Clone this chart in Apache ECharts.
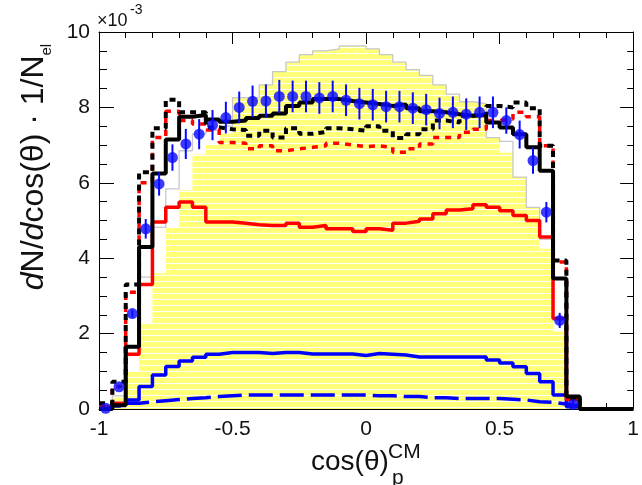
<!DOCTYPE html>
<html>
<head>
<meta charset="utf-8">
<script src="https://cdn.jsdelivr.net/npm/echarts@6/dist/echarts.min.js"></script>
<style>
  html, body { margin: 0; padding: 0; background: #fff; }
  #chart { width: 642px; height: 485px; }
</style>
</head>
<body>
<div id="chart"></div>
<script>
// 40 bins of width 0.05 from -1 to 1, values in units of 1e-3
const binLow = -1
const binWidth = 0.05

const yellowFill = [0, 0.3, 1.0, 2.25, 3.6, 4.82, 5.8, 6.75, 7.0, 7.3,
  8.26, 8.26, 8.6, 8.95, 9.2, 9.4, 9.5, 9.55, 9.63, 9.63,
  9.55, 9.4, 9.2, 9.0, 8.85, 8.6, 8.35, 8.15, 8.1, 7.2,
  6.8, 6.15, 5.35, 4.25, 2.05, 0.15, 0, 0, 0, 0]
const grayOutline = [0, 0.35, 1.43, 3.5, 4.82, 5.84, 6.85, 7.3, 7.4, 7.5,
  8.26, 8.26, 8.6, 8.95, 9.2, 9.4, 9.5, 9.55, 9.63, 9.63,
  9.55, 9.4, 9.2, 9.0, 8.85, 8.6, 8.35, 8.15, 8.1, 7.2,
  7.1, 6.15, 5.35, 4.5, 2.35, 0.22, 0, 0, 0, 0]
const redSolid = [0.05, 0.15, 1.45, 3.3, 4.96, 5.35, 5.49, 5.35, 4.96, 4.96,
  4.93, 4.89, 4.87, 4.87, 4.93, 4.82, 4.87, 4.78, 4.78, 4.71,
  4.78, 4.74, 4.93, 4.98, 5.04, 5.18, 5.28, 5.31, 5.42, 5.35,
  5.26, 5.13, 5.0, 4.56, 2.4, 0.25, 0, 0, 0, 0]
const redDashed = [0.1, 0.6, 3.1, 6.0, 7.2, 7.9, 7.65, 7.56, 7.4, 7.07,
  7.05, 6.9, 6.98, 6.85, 6.9, 6.94, 6.98, 7.05, 7.0, 6.96,
  6.98, 6.94, 6.81, 6.9, 7.03, 7.2, 7.2, 7.34, 7.42, 7.65,
  7.69, 7.87, 7.75, 6.98, 3.9, 0.3, 0, 0, 0, 0]
const blackDashed = [0.15, 0.72, 3.3, 6.28, 7.45, 8.2, 7.87, 7.87, 7.47, 7.42,
  7.4, 7.25, 7.38, 7.2, 7.45, 7.3, 7.35, 7.45, 7.42, 7.38,
  7.5, 7.38, 7.19, 7.29, 7.42, 7.65, 7.6, 7.78, 7.82, 8.04,
  8.0, 8.13, 7.98, 6.98, 3.94, 0.3, 0, 0, 0, 0]
const blackSolid = [0, 0.1, 1.65, 4.3, 6.25, 7.15, 7.75, 7.8, 7.68, 7.62,
  7.65, 7.72, 7.78, 7.84, 8.04, 8.13, 8.22, 8.22, 8.17, 8.13,
  8.09, 8.04, 8.08, 7.98, 7.9, 7.87, 7.82, 7.78, 7.8, 7.6,
  7.47, 7.29, 6.94, 6.32, 3.46, 0.33, 0, 0, 0, 0]
const blueSolid = [0.02, 0.12, 0.24, 0.6, 0.9, 1.13, 1.27, 1.37, 1.45, 1.5,
  1.5, 1.5, 1.47, 1.5, 1.5, 1.46, 1.46, 1.46, 1.46, 1.42,
  1.47, 1.45, 1.43, 1.38, 1.38, 1.38, 1.38, 1.38, 1.38, 1.3,
  1.22, 1.12, 0.94, 0.72, 0.37, 0.06, 0, 0, 0, 0]
const blueDashed = [0.02, 0.08, 0.15, 0.19, 0.22, 0.25, 0.28, 0.3, 0.33, 0.35,
  0.37, 0.37, 0.37, 0.37, 0.37, 0.37, 0.37, 0.37, 0.37, 0.37,
  0.35, 0.35, 0.33, 0.33, 0.3, 0.3, 0.28, 0.28, 0.28, 0.28,
  0.26, 0.24, 0.19, 0.18, 0.13, 0.08, 0, 0, 0, 0]

// measured points (bins 0..35) with their errors
const dataValues = [0.02, 0.59, 2.53, 4.78, 5.97, 6.67, 7.03, 7.29, 7.53, 7.73,
  8.0, 8.16, 8.17, 8.29, 8.29, 8.29, 8.25, 8.29, 8.19, 8.1,
  8.07, 8.02, 8.02, 7.98, 7.94, 7.84, 7.87, 7.82, 7.87, 7.87,
  7.65, 7.28, 6.59, 5.22, 2.35, 0.12]
const dataErrors = [0, 0.05, 0.1, 0.26, 0.31, 0.35, 0.4, 0.4, 0.4, 0.42,
  0.42, 0.42, 0.44, 0.44, 0.42, 0.42, 0.42, 0.42, 0.42, 0.42,
  0.42, 0.42, 0.42, 0.42, 0.42, 0.42, 0.42, 0.42, 0.42, 0.42,
  0.35, 0.37, 0.35, 0.27, 0.2, 0.1]

const xTicks = [-1, -0.5, 0, 0.5, 1]
const yTicks = [0, 2, 4, 6, 8, 10]

const FONT = '"Liberation Sans", Arial, sans-serif'

function stepData(values) {
  const pts = values.map((v, i) => [binLow + i * binWidth, v])
  pts.push([binLow + values.length * binWidth, values[values.length - 1]])
  return pts
}

function hatchPattern() {
  const c = document.createElement('canvas')
  c.width = 8
  c.height = 6
  const ctx = c.getContext('2d')
  ctx.fillStyle = '#ffff78'
  ctx.fillRect(0, 0, 8, 6)
  ctx.fillStyle = '#ffffff'
  ctx.fillRect(0, 5, 8, 1)
  return c
}

function histSeries(name, values, color, width, dash, z) {
  return {
    name,
    type: 'line',
    step: 'end',
    showSymbol: false,
    symbol: 'none',
    clip: false,
    silent: true,
    z,
    lineStyle: { color, width, type: dash || 'solid', cap: 'butt' },
    data: stepData(values)
  }
}

const chart = echarts.init(document.getElementById('chart'))

const xAxisBase = {
  type: 'value',
  min: xTicks[0],
  max: xTicks[xTicks.length - 1],
  interval: 0.5,
  axisLine: { onZero: false, lineStyle: { color: '#000', width: 1 } },
  axisTick: { inside: true, length: 12, lineStyle: { color: '#000' } },
  minorTick: { show: true, splitNumber: 5, length: 6, lineStyle: { color: '#000' } },
  splitLine: { show: false },
  minorSplitLine: { show: false }
}
const yAxisBase = {
  type: 'value',
  min: yTicks[0],
  max: yTicks[yTicks.length - 1],
  interval: 2,
  axisLine: { show: true, onZero: false, lineStyle: { color: '#000', width: 1 } },
  axisTick: { show: true, inside: true, length: 15, lineStyle: { color: '#000' } },
  minorTick: { show: true, splitNumber: 4, length: 8, lineStyle: { color: '#000' } },
  splitLine: { show: false },
  minorSplitLine: { show: false }
}

chart.setOption({
  animation: false,
  backgroundColor: '#fff',
  grid: { left: 99, right: 1, top: 32, bottom: 76 },
  xAxis: [
    {
      ...xAxisBase,
      position: 'bottom',
      axisLabel: {
        fontFamily: FONT, fontSize: 21, color: '#111', margin: 10,
        showMinLabel: true, showMaxLabel: true,
        formatter: (v) => String(v)
      }
    },
    { ...xAxisBase, position: 'top', axisLabel: { show: false } }
  ],
  yAxis: [
    {
      ...yAxisBase,
      position: 'left',
      axisLabel: { fontFamily: FONT, fontSize: 21, color: '#111', margin: 9, showMaxLabel: true }
    },
    {
      ...yAxisBase,
      position: 'right',
      axisTick: { show: true, inside: true, length: 13, lineStyle: { color: '#000' } },
      minorTick: { show: true, splitNumber: 4, length: 6, lineStyle: { color: '#000' } },
      axisLabel: { show: false }
    }
  ],
  graphic: [
    { type: 'text', left: 97, top: 12, style: { text: '×10', font: '18px ' + FONT, fill: '#111' } },
    { type: 'text', left: 130, top: 3, style: { text: '-3', font: '14px ' + FONT, fill: '#111' } },
    {
      type: 'text', x: 34, y: 167, rotation: Math.PI / 2,
      style: {
        text: '{i|d}N/{i|d}cos(θ) · 1/N{s|el}',
        fontFamily: FONT, fontSize: 32, lineHeight: 40, fill: '#111',
        align: 'center', verticalAlign: 'middle',
        rich: {
          i: { fontFamily: FONT, fontSize: 32, lineHeight: 40, fontStyle: 'italic', fill: '#111' },
          s: { fontFamily: FONT, fontSize: 15, lineHeight: 25, verticalAlign: 'bottom', fill: '#111' }
        }
      }
    },
    { type: 'text', x: 311, y: 476, style: { text: 'cos(θ)', font: '28px ' + FONT, fill: '#111', verticalAlign: 'bottom' } },
    { type: 'text', x: 392, y: 489, style: { text: 'p', font: '21px ' + FONT, fill: '#111', verticalAlign: 'bottom' } },
    { type: 'text', x: 388, y: 463, style: { text: 'CM', font: '21px ' + FONT, fill: '#111', verticalAlign: 'bottom' } }
  ],
  series: [
    {
      name: 'fill',
      type: 'line',
      step: 'end',
      showSymbol: false,
      symbol: 'none',
      silent: true,
      z: 1,
      lineStyle: { width: 0 },
      areaStyle: { color: { image: hatchPattern(), repeat: 'repeat' }, opacity: 1 },
      data: stepData(yellowFill)
    },
    histSeries('outline', grayOutline, '#c8c8c8', 1.3, 'solid', 2),
    histSeries('blueDashed', blueDashed, '#0000ff', 3.5, [24, 7], 3),
    histSeries('blueSolid', blueSolid, '#0000ff', 3.5, 'solid', 3),
    histSeries('redSolid', redSolid, '#ff0000', 3.5, 'solid', 4),
    histSeries('redDashed', redDashed, '#ff0000', 3.5, [6, 6], 5),
    histSeries('blackDashed', blackDashed, '#000000', 4, [6, 5], 6),
    histSeries('blackSolid', blackSolid, '#000000', 4, 'solid', 7),
    {
      name: 'errors',
      type: 'custom',
      z: 8,
      silent: true,
      renderItem: (params, api) => {
        const x = api.value(0)
        const y = api.value(1)
        const e = api.value(2)
        const p1 = api.coord([x, y - e])
        const p2 = api.coord([x, y + e])
        return {
          type: 'line',
          shape: { x1: p1[0], y1: p1[1], x2: p2[0], y2: p2[1] },
          style: { stroke: '#0a0aff', lineWidth: 2 }
        }
      },
      data: dataValues.map((v, i) => [binLow + (i + 0.5) * binWidth, v, dataErrors[i]])
    },
    {
      name: 'data',
      type: 'scatter',
      z: 9,
      silent: true,
      symbol: 'circle',
      symbolSize: 11,
      itemStyle: { color: '#0a0aff' },
      data: dataValues.map((v, i) => [binLow + (i + 0.5) * binWidth, v])
    }
  ]
})
</script>
</body>
</html>
